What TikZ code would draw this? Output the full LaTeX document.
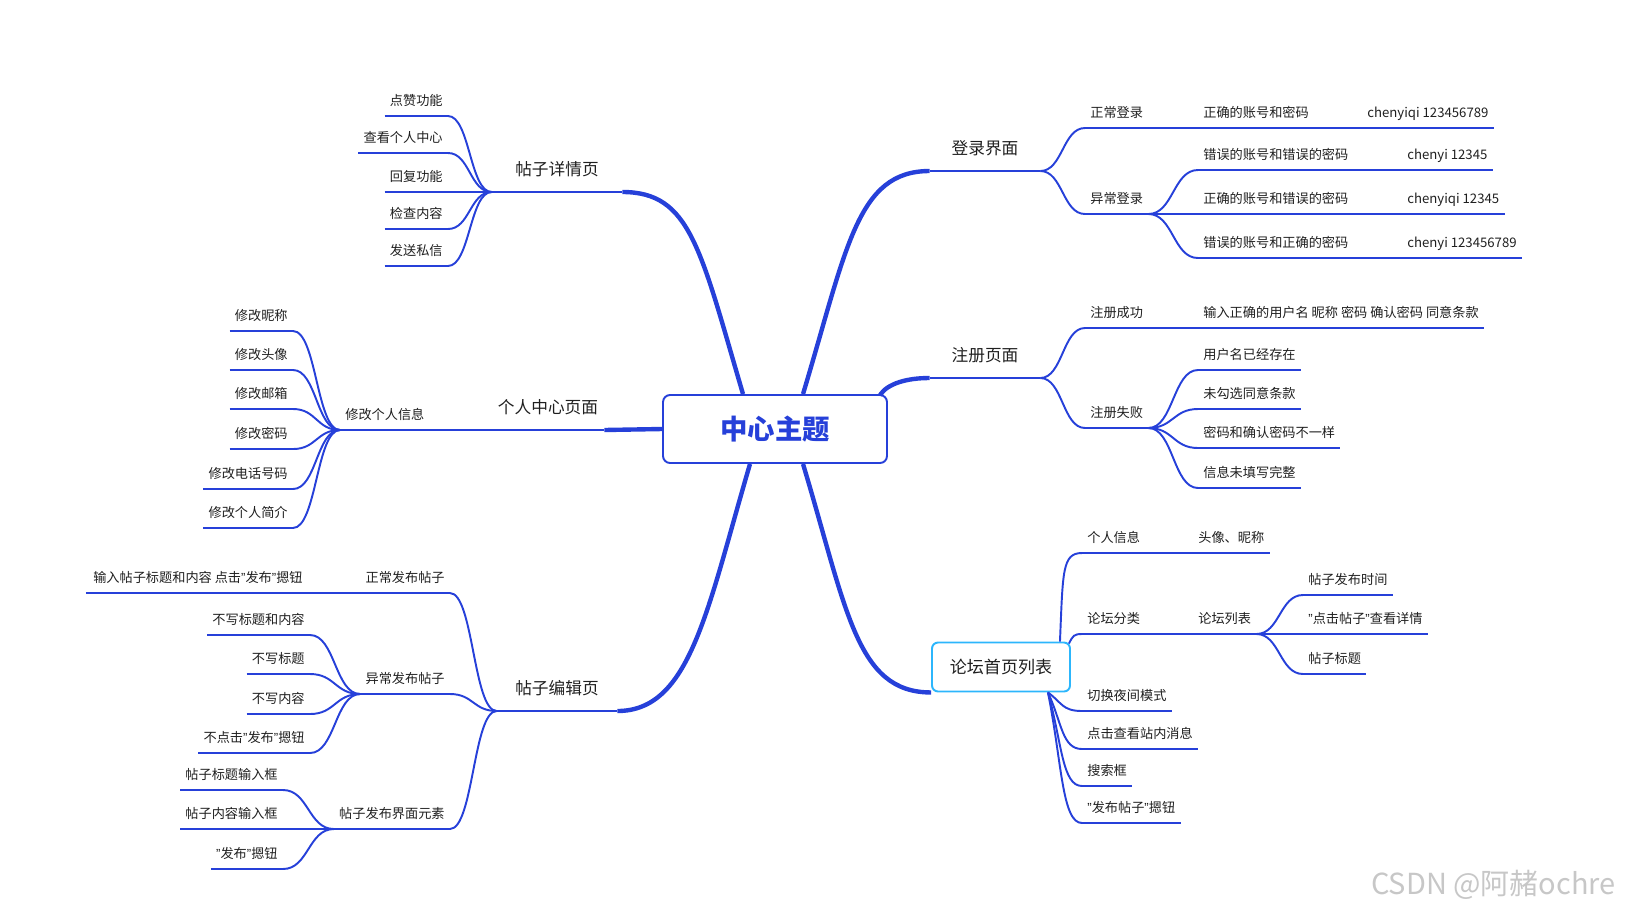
\documentclass[tikz,border=0pt]{standalone}
\usepackage{fontspec}
\setmainfont{Noto Sans CJK SC}
\newfontfamily\qfont{Liberation Sans}
\newcommand\qq{{\qfont ”}}
\usetikzlibrary{calc}
\definecolor{mblue}{RGB}{38,64,217}
\definecolor{lblue}{RGB}{44,182,252}
\tikzset{
 sub/.style={draw=mblue,line width=1.1pt},
 trunk/.style={draw=mblue,line width=2.5pt},
 uline/.style={append after command={(\tikzlastnode.south west) edge[sub] (\tikzlastnode.south east)}},
 leaf/.style={uline,text=black!88,font=\fontsize{7.5}{9}\selectfont,inner xsep=0.1cm,inner ysep=0.2cm,text depth=0pt},
 head/.style={uline,text=black!88,font=\fontsize{9.5}{11}\selectfont,inner xsep=0cm,inner ysep=0.32cm,text depth=0pt,anchor=south},
 sbend/.style={to path={let \p1=(\tikztostart),\p2=(\tikztotarget) in .. controls ({(\x1+\x2)/2},\y1) and ({(\x1+\x2)/2},\y2) .. (\tikztotarget)}}
}
\begin{document}
\begin{tikzpicture}[x=0.02cm,y=-0.02cm]
\useasboundingbox (0,0) rectangle (1629,914);
\node[draw=mblue,line width=1.1pt,rounded corners=0.14cm,minimum width=4.48cm,minimum height=1.36cm,text=mblue,font=\fontsize{15.6}{18}\bfseries\selectfont](c)at(775,429){中心主题};
\node[draw=lblue,line width=1.1pt,rounded corners=0.12cm,minimum width=2.76cm,minimum height=0.98cm,text=black!88,font=\fontsize{9.7}{12}\selectfont](lt)at(1001,667){论坛首页列表};
\node[head,minimum width=2.6cm](xq)at(557,192){帖子详情页};
\node[head,minimum width=2.4cm](bj)at(557,711){帖子编辑页};
\node[head,minimum width=2.24cm](gr)at(548,430){个人中心页面};
\node[head,minimum width=2.2cm](dl)at(985,171){登录界面};
\node[head,minimum width=2.2cm](zc)at(985,378){注册页面};
\draw[trunk](c.north)++(-32,0)..controls+(-43,-146)and+(68,0)..(xq.south east);
\draw[trunk](c.north)++(28,0)..controls+(44,-146)and+(-73,0)..(dl.south west);
\draw[trunk](c.north east)++(-8,1)..controls+(8,-12)and+(-22,0)..(zc.south west);
\draw[trunk](c.south)++(28,0)..controls+(44,146)and+(-75,0)..(lt.south west);
\draw[trunk](c.south)++(-25,0)..controls+(-43,146)and+(73,0)..(bj.south east);
\draw[trunk](c.west)--(gr.south east);
\foreach\t/\h[count=\i]in{点赞功能/116,查看个人中心/153,回复功能/192,检查内容/229,发送私信/266}{
 \node[leaf,anchor=south east](xq\i)at(448,\h){\t};
 \draw[sub](xq.south west)to[sbend](xq\i.south east);}
\node[leaf,anchor=south west](xg)at(340,430){修改个人信息};
\draw[sub](gr.south west)--(xg.south east);
\foreach\t/\h[count=\i]in{修改昵称/331,修改头像/370,修改邮箱/409,修改密码/449,修改电话号码/489,修改个人简介/528}{
 \node[leaf,anchor=south east](xg\i)at(293,\h){\t};
 \draw[sub](xg.south west)to[sbend](xg\i.south east);}
\node[leaf,anchor=south east](zf)at(450,593){正常发布帖子};
\node[leaf,anchor=south east](yf)at(450,694){异常发布帖子};
\node[leaf,anchor=south east](jm)at(450,829){帖子发布界面元素};
\node[leaf,anchor=south east,inner xsep=0.14cm](zf1)at(310,593){输入帖子标题和内容 点击\qq 发布\qq 摁钮};
\foreach\m in{zf,yf,jm}{\draw[sub](bj.south west)to[sbend](\m.south east);}
\draw[sub](zf.south west)--(zf1.south east);
\foreach\t/\h[count=\i]in{不写标题和内容/635,不写标题/674,不写内容/714,不点击\qq 发布\qq 摁钮/753}{
 \node[leaf,anchor=south east](yf\i)at(310,\h){\t};
 \draw[sub](yf.south west)to[sbend](yf\i.south east);}
\foreach\t/\h[count=\i]in{帖子标题输入框/790,帖子内容输入框/829,\qq 发布\qq 摁钮/869}{
 \node[leaf,anchor=south east](jm\i)at(283,\h){\t};
 \draw[sub](jm.south west)to[sbend](jm\i.south east);}
\node[leaf,anchor=south west](zd)at(1085,128){正常登录};
\node[leaf,anchor=south west](yd)at(1085,214){异常登录};
\foreach\m in{zd,yd}{\draw[sub](dl.south east)to[sbend](\m.south west);}
\node[leaf,anchor=south west](zd1)at(1198,128){正确的账号和密码};
\node[leaf,anchor=south west](zd2)at(1362,128){chenyiqi 123456789};
\draw[sub](zd.south east)--(zd1.south west)(zd1.south east)--(zd2.south west);
\foreach\t/\u/\h[count=\i]in{错误的账号和错误的密码/chenyi 12345/170,正确的账号和错误的密码/chenyiqi 12345/214,错误的账号和正确的密码/chenyi 123456789/258}{
 \node[leaf,anchor=south west](yd\i)at(1198,\h){\t};
 \node[leaf,anchor=south west](yz\i)at(1402,\h){\u};
 \draw[sub](yd.south east)to[sbend](yd\i.south west)(yd\i.south east)--(yz\i.south west);}
\node[leaf,anchor=south west](zs)at(1085,328){注册成功};
\node[leaf,anchor=south west](zb)at(1085,428){注册失败};
\foreach\m in{zs,zb}{\draw[sub](zc.south east)to[sbend](\m.south west);}
\node[leaf,anchor=south west](zs1)at(1198,328){输入正确的用户名 昵称 密码 确认密码 同意条款};
\draw[sub](zs.south east)--(zs1.south west);
\foreach\t/\h[count=\i]in{用户名已经存在/370,未勾选同意条款/409,密码和确认密码不一样/448,信息未填写完整/488}{
 \node[leaf,anchor=south west](zb\i)at(1198,\h){\t};
 \draw[sub](zb.south east)to[sbend](zb\i.south west);}
\node[leaf,anchor=south west](gx)at(1082,553){个人信息};
\node[leaf,anchor=south west](gx1)at(1193,553){头像、昵称};
\node[leaf,anchor=south west](lf)at(1082,634){论坛分类};
\node[leaf,anchor=south west](ll)at(1193,634){论坛列表};
\draw[sub](lt.north east)++(-11,0)..controls+(3,-70)and+(-20,0)..(gx.south west);
\draw[sub](lt.north east)++(-2,2)..controls+(4,-8)and+(-8,0)..(lf.south west);
\draw[sub](gx.south east)--(gx1.south west)(lf.south east)--(ll.south west);
\foreach\t/\h[count=\i]in{帖子发布时间/595,\qq 点击帖子\qq 查看详情/634,帖子标题/674}{
 \node[leaf,anchor=south west](ll\i)at(1303,\h){\t};
 \draw[sub](ll.south east)to[sbend](ll\i.south west);}
\foreach\t/\h/\d[count=\i]in{切换夜间模式/711/10,点击查看站内消息/749/30,搜索框/786/50,\qq 发布帖子\qq 摁钮/823/70}{
 \node[leaf,anchor=south west](lx\i)at(1082,\h){\t};
 \draw[sub](lt.south east)++(-23,0)..controls+(14,\d)and+(-20,0)..(lx\i.south west);}
\node[text=black!22,font=\fontsize{16.5}{18}\selectfont,anchor=east](wm)at(1622,885){CSDN @阿赭ochre};
\end{tikzpicture}
\end{document}
